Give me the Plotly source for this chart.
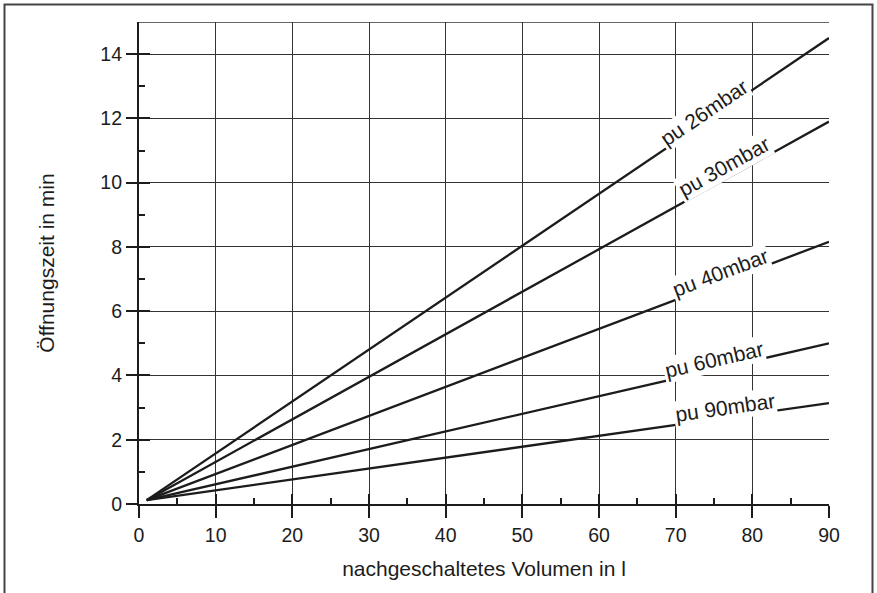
import math
import plotly.graph_objects as go

# ---- data ----
pressures = ["pu 26mbar", "pu 30mbar", "pu 40mbar", "pu 60mbar", "pu 90mbar"]
x_start = 1
x_end = 90
y_start = [0.12, 0.12, 0.12, 0.12, 0.12]
y_end = [14.5, 11.9, 8.16, 5.0, 3.14]
label_x = [73.7, 76.3, 75.8, 75.0, 76.4]
label_shift = [10, 13, 11, 10, 10]

x_ticks = [0, 10, 20, 30, 40, 50, 60, 70, 80, 90]
x_minor = [5, 15, 25, 35, 45, 55, 65, 75, 85]
y_ticks = [0, 2, 4, 6, 8, 10, 12, 14]
y_minor = [1, 3, 5, 7, 9, 11, 13]
x_range = [0, 90]
y_range = [0, 15]

x_title = "nachgeschaltetes Volumen in l"
y_title = "Öffnungszeit in min"

# ---- layout geometry ----
W, H = 877, 593
ML, MR, MT, MB = 139, 48, 22, 89
PW, PH = W - ML - MR, H - MT - MB
px_per_x = PW / (x_range[1] - x_range[0])
px_per_y = PH / (y_range[1] - y_range[0])

FONT = "Arial, Liberation Sans, Helvetica, sans-serif"
INK = "#1c1c1c"
GRID = "#333333"

fig = go.Figure()

for name, y0, y1 in zip(pressures, y_start, y_end):
    fig.add_trace(go.Scatter(
        x=[x_start, x_end], y=[y0, y1], mode="lines",
        line=dict(color=INK, width=2.3), name=name, showlegend=False,
        hoverinfo="skip",
    ))

# invisible trace to activate the overlay axes
fig.add_trace(go.Scatter(x=[x_start], y=[y_start[0]], xaxis="x2", yaxis="y2",
                         mode="markers", marker=dict(opacity=0), showlegend=False,
                         hoverinfo="skip"))

annotations = []
for name, y0, y1, lx, sh in zip(pressures, y_start, y_end, label_x, label_shift):
    slope = (y1 - y0) / (x_end - x_start)
    ly = y0 + slope * (lx - x_start)
    ang = math.degrees(math.atan(slope * px_per_y / px_per_x))
    annotations.append(dict(
        x=lx, y=ly, xref="x", yref="y", text=name, showarrow=False,
        textangle=-ang, yshift=sh, bgcolor="white", borderpad=1,
        font=dict(family=FONT, size=21, color=INK),
        xanchor="center", yanchor="middle",
    ))

shapes = [
    # top frame line at y=15
    dict(type="line", xref="x", yref="y", x0=x_range[0], x1=x_range[1],
         y0=y_range[1], y1=y_range[1], line=dict(color=GRID, width=1.3), layer="below"),
    # outer figure border
    dict(type="rect", xref="paper", yref="paper",
         x0=(4.5 - ML) / PW, x1=(872.5 - ML) / PW,
         y0=(H - MB - 600) / PH, y1=(H - MB - 4.5) / PH,
         line=dict(color="#444444", width=2), fillcolor="rgba(0,0,0,0)"),
]

axis_common = dict(showline=True, linecolor=INK, linewidth=2.2, zeroline=False)

fig.update_layout(
    width=W, height=H,
    margin=dict(l=ML, r=MR, t=MT, b=MB),
    paper_bgcolor="white", plot_bgcolor="white",
    font=dict(family=FONT, color=INK),
    showlegend=False,
    xaxis=dict(
        range=x_range, tickvals=x_ticks, ticks="outside", ticklen=12,
        tickwidth=2.2, tickcolor=INK, showgrid=True, gridcolor=GRID, gridwidth=1.3,
        tickfont=dict(size=19.5, family=FONT, color=INK),
        title=dict(text=x_title, font=dict(size=21, family=FONT, color=INK), standoff=17),
        **axis_common,
    ),
    yaxis=dict(
        range=y_range, tickvals=y_ticks, ticks="outside", ticklen=11,
        tickwidth=2.2, tickcolor=INK, showgrid=True, gridcolor=GRID, gridwidth=1.3,
        tickfont=dict(size=19.5, family=FONT, color=INK),
        title=dict(text=y_title, font=dict(size=21, family=FONT, color=INK), standoff=40),
        **axis_common,
    ),
    xaxis2=dict(
        range=x_range, overlaying="x", anchor="y", side="bottom",
        tickvals=x_ticks, ticks="inside", ticklen=10, tickwidth=2.2, tickcolor=INK,
        showticklabels=False, showgrid=False, zeroline=False, showline=False,
        minor=dict(tickvals=x_minor, ticks="inside", ticklen=6, tickwidth=1.8, tickcolor=INK),
    ),
    yaxis2=dict(
        range=y_range, overlaying="y", anchor="x", side="left",
        tickvals=y_ticks, ticks="inside", ticklen=11, tickwidth=2.2, tickcolor=INK,
        showticklabels=False, showgrid=False, zeroline=False, showline=False,
        minor=dict(tickvals=y_minor, ticks="inside", ticklen=6, tickwidth=1.8, tickcolor=INK),
    ),
    annotations=annotations,
    shapes=shapes,
)

fig.write_html("out.html",
               config={"displayModeBar": False},
               post_script="document.body.style.margin='0';document.body.style.overflow='hidden';")
